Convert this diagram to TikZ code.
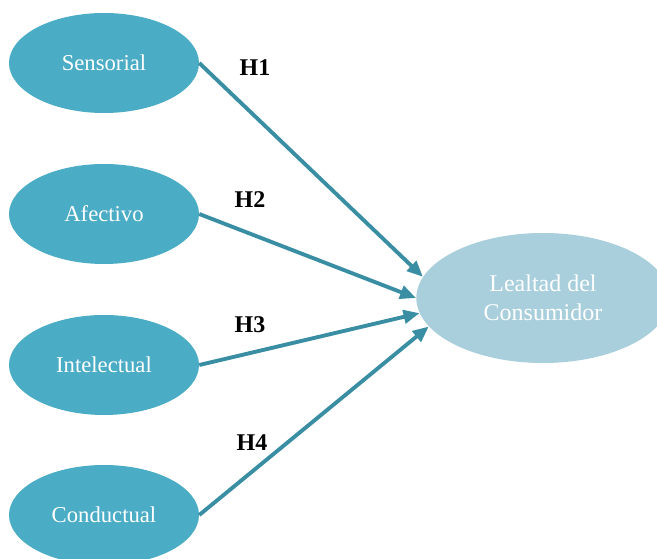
\documentclass[tikz,border=0pt]{standalone}
\usepackage{fontspec}
\setmainfont{Liberation Serif}
\usepackage{xcolor}
\usetikzlibrary{shapes.geometric,arrows.meta}

\definecolor{dimfill}{HTML}{4BACC6}
\definecolor{loyalfill}{HTML}{A9CFDC}
\definecolor{hyparrow}{HTML}{3A8EA4}

\tikzset{
    dimension/.style={ellipse, fill=dimfill, text=white, inner sep=0pt,
        minimum width=142.5pt, minimum height=75pt, font=\fontsize{17}{20}\selectfont},
    loyalty/.style={ellipse, fill=loyalfill, text=white, inner sep=0pt, align=center,
        minimum width=190pt, minimum height=97.5pt, font=\fontsize{18}{22}\selectfont},
    hyplink/.style={-{Triangle[length=12pt,width=10pt]}, line width=2.9pt, draw=hyparrow, fill=hyparrow},
    hyplabel/.style={font=\fontsize{18}{20}\selectfont\bfseries}
}

\begin{document}
\begin{tikzpicture}[x=0.75pt,y=-0.75pt]

    % Frame
    \useasboundingbox (0,0) rectangle (657,559);

    % Experience dimensions
    \node[dimension] (sens) at (104,63)  {Sensorial};
    \node[dimension] (afec) at (104,214) {Afectivo};
    \node[dimension] (inte) at (104,365) {Intelectual};
    \node[dimension] (cond) at (104,515) {Conductual};

    % Outcome
    \node[loyalty] (leal) at (543,298) {Lealtad del\\Consumidor};

    % Hypotheses
    \draw[hyplink] (sens.east) -- (leal.170);
    \draw[hyplink] (afec.east) -- (leal.180);
    \draw[hyplink] (inte.east) -- (leal.187);
    \draw[hyplink] (cond.east) -- (leal.194);

    % Hypothesis labels
    \node[hyplabel] (h1) at (255,68)  {H1};
    \node[hyplabel] (h2) at (250,200) {H2};
    \node[hyplabel] (h3) at (250,325) {H3};
    \node[hyplabel] (h4) at (252,443) {H4};

\end{tikzpicture}
\end{document}
